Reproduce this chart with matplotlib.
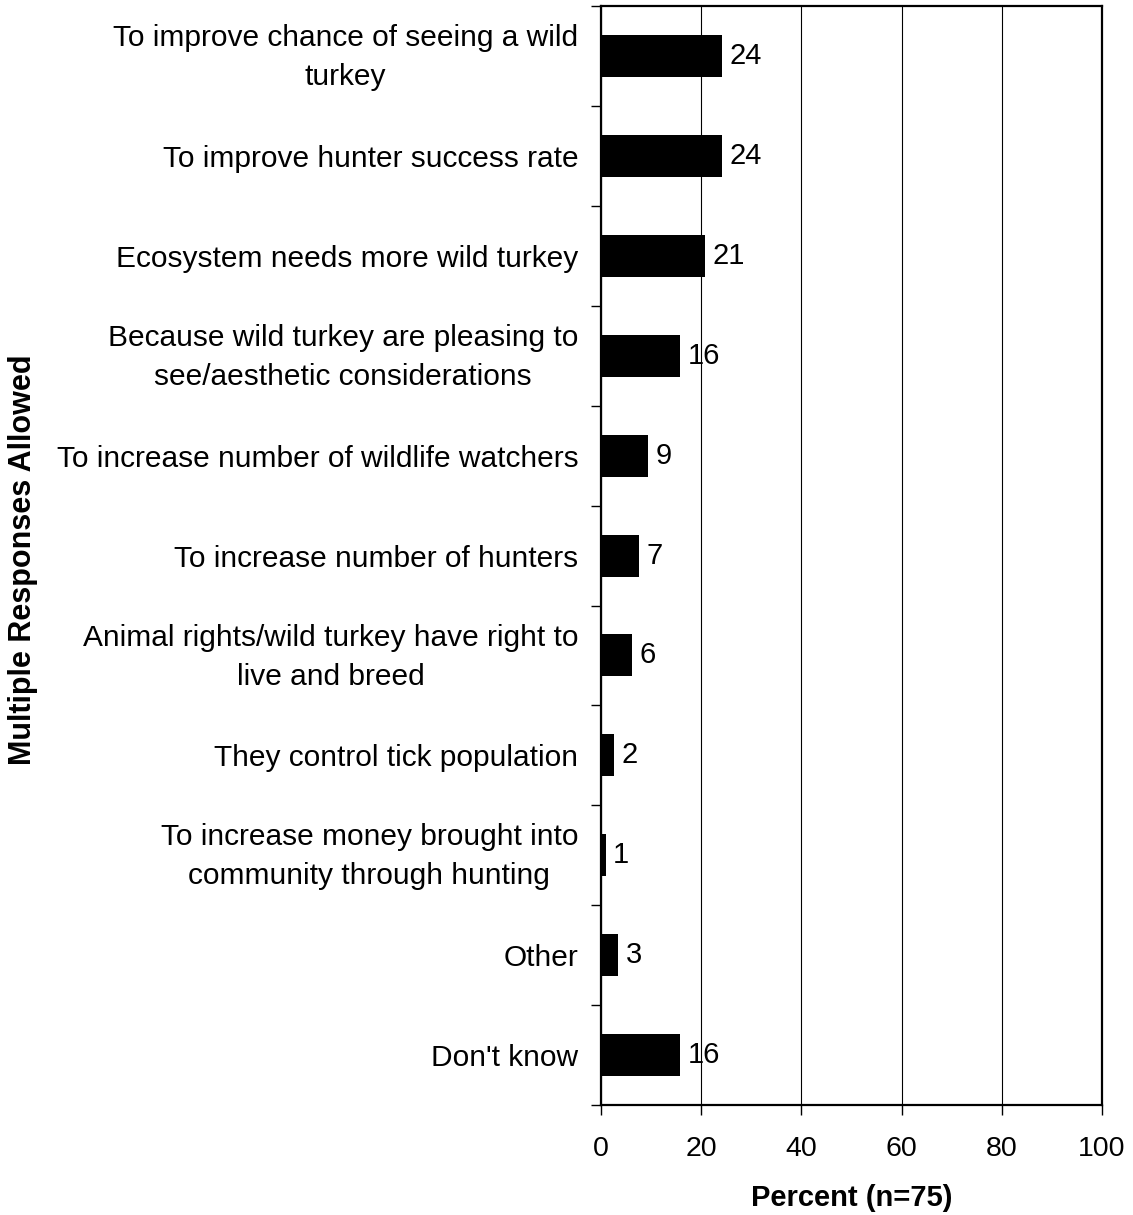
import matplotlib.pyplot as plt
import matplotlib.transforms as mtransforms
import numpy as np

plt.rcParams['font.family'] = ['Liberation Sans', 'DejaVu Sans']

# Reasons, top to bottom
reasons = [
    "To improve chance of seeing a wild\nturkey",
    "To improve hunter success rate",
    "Ecosystem needs more wild turkey",
    "Because wild turkey are pleasing to\nsee/aesthetic considerations",
    "To increase number of wildlife watchers",
    "To increase number of hunters",
    "Animal rights/wild turkey have right to\nlive and breed",
    "They control tick population",
    "To increase money brought into\ncommunity through hunting",
    "Other",
    "Don't know",
]
percent = [24.2, 24.1, 20.8, 15.8, 9.3, 7.6, 6.1, 2.6, 0.9, 3.4, 15.8]
labels = ["24", "24", "21", "16", "9", "7", "6", "2", "1", "3", "16"]

fig = plt.figure(figsize=(11.33, 12.15), dpi=100)
ax = fig.add_axes([0.5305, 0.0905, 0.4421, 0.9045])

y = np.arange(len(reasons))
ax.barh(y, percent, height=0.42, color='black', zorder=3)

for yi, v, lab in zip(y, percent, labels):
    ax.annotate(lab, (v, yi), xytext=(5.5, 0), textcoords='offset points',
                va='center', ha='left', fontsize=21, zorder=4)

ax.set_xlim(0, 100)
ax.set_ylim(len(reasons) - 0.5, -0.5)
ax.set_xticks(range(0, 101, 20))
ax.set_yticks(y)
ax.set_yticklabels(reasons, fontsize=21.5, multialignment='center',
                   linespacing=1.5)
ax.set_yticks(np.arange(-0.5, len(reasons), 1), minor=True)
ax.tick_params(axis='y', which='major', length=0, pad=16.5)
ax.tick_params(axis='y', which='minor', length=7, width=1, direction='out')
ax.tick_params(axis='x', length=7, width=1, direction='out', labelsize=20.5, pad=15)

# two-line labels sit a little higher in the original
shift = mtransforms.ScaledTranslation(0, 5 / 72, fig.dpi_scale_trans)
for t in ax.get_yticklabels():
    if "\n" in t.get_text():
        t.set_transform(t.get_transform() + shift)

ax.grid(axis='x', color='black', linewidth=0.8, zorder=0)
for s in ax.spines.values():
    s.set_linewidth(1.6)

ax.set_xlabel("Percent (n=75)", fontsize=21, fontweight='bold', labelpad=16)
fig.text(0.02, 0.539, "Multiple Responses Allowed", rotation=90, fontsize=22,
         fontweight='bold', ha='center', va='center')

fig.savefig('out.png', dpi=100)
